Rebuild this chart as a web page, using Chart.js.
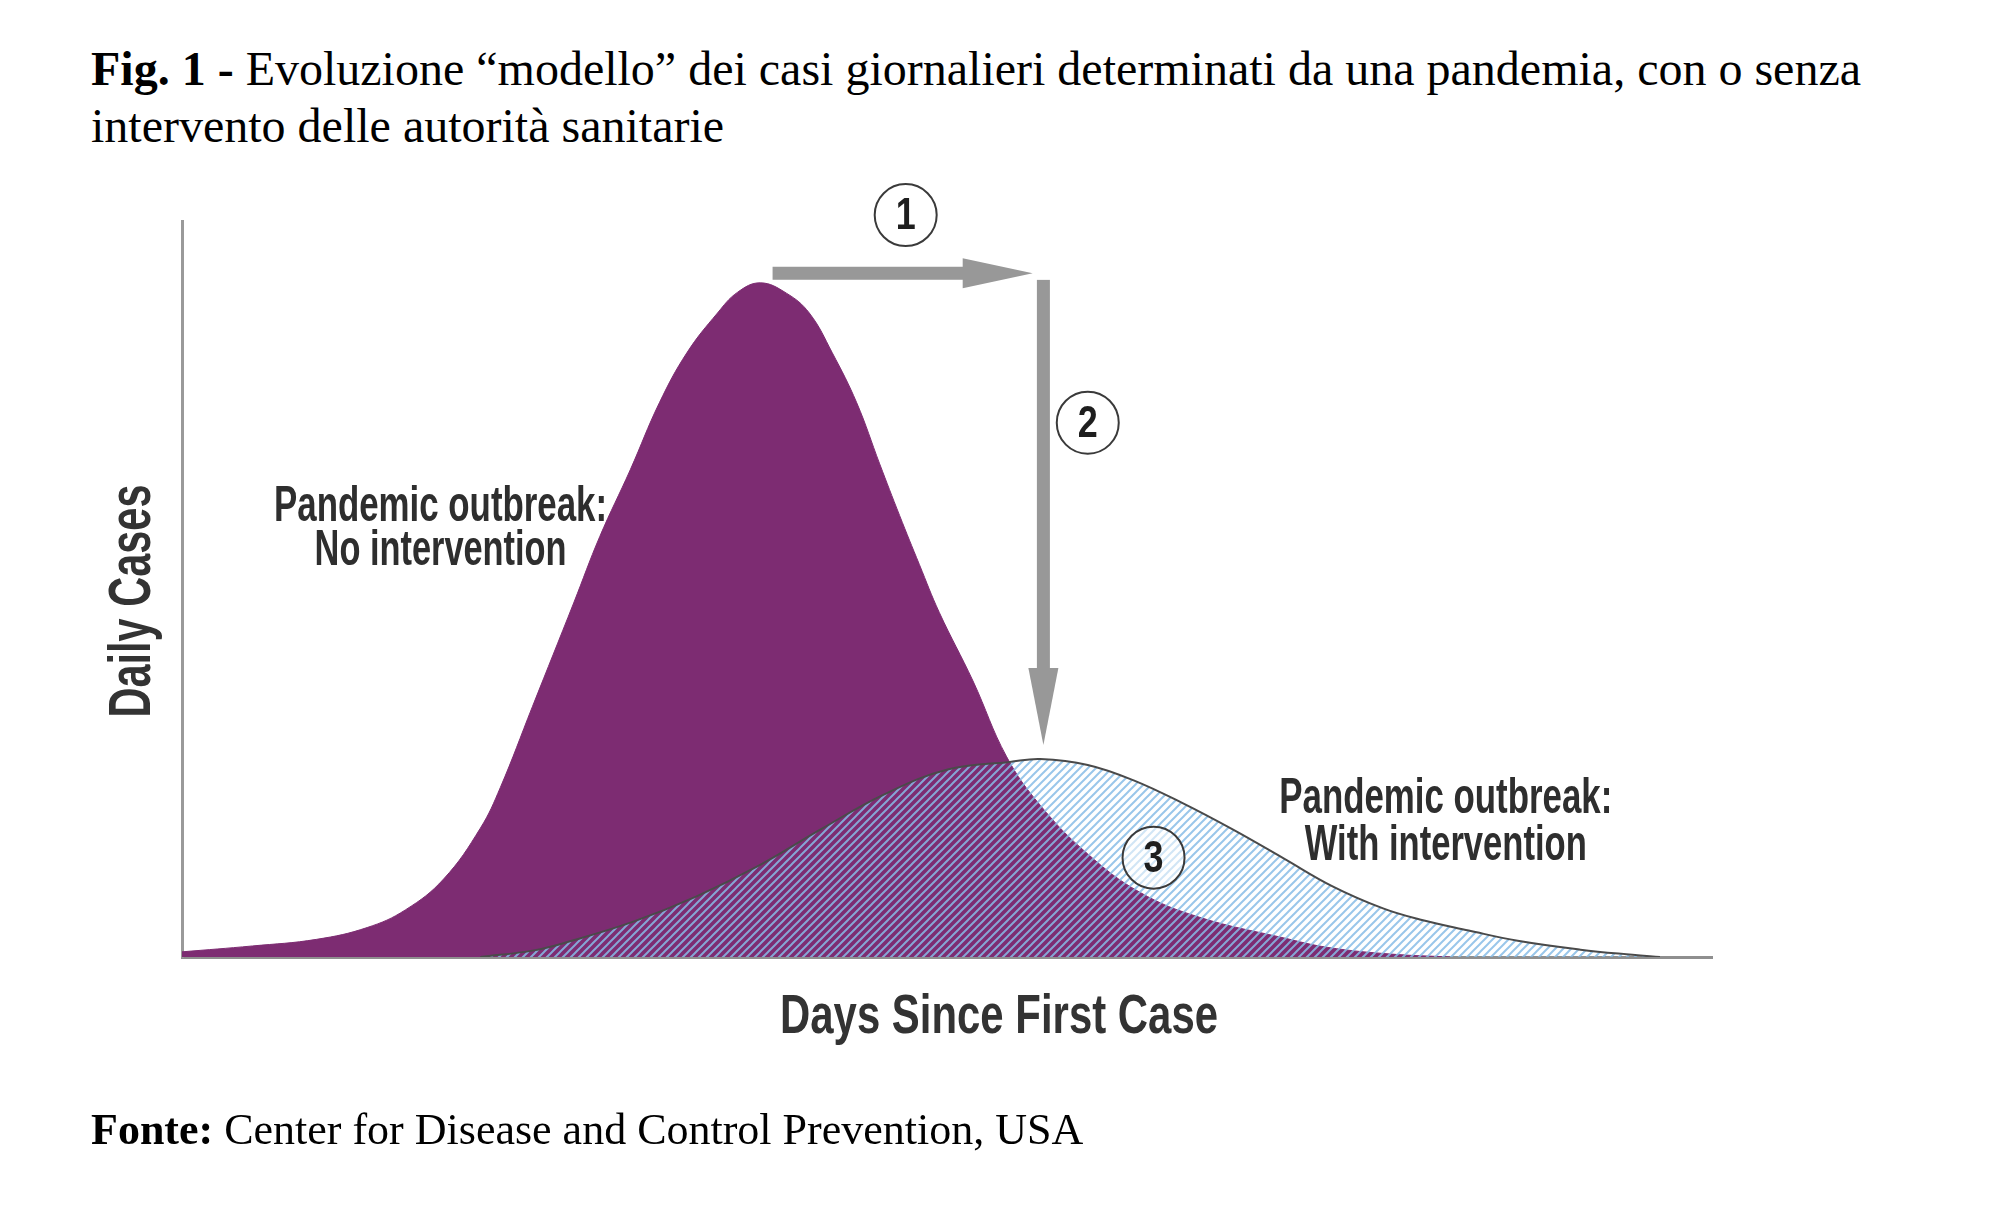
<!DOCTYPE html>
<html lang="it">
<head>
<meta charset="utf-8">
<title>Fig. 1 - Evoluzione modello dei casi giornalieri</title>
<script src="https://cdn.jsdelivr.net/npm/chart.js@4.4.1/dist/chart.umd.min.js"></script>
<style>
  html, body { margin: 0; padding: 0; background: #fff; }
  body { width: 1990px; height: 1212px; position: relative; overflow: hidden; }
  #chart { position: absolute; left: 0; top: 0; }
  .caption { position: absolute; left: 91px; font-family: "Liberation Serif", "Times New Roman", serif; color: #000; white-space: nowrap; }
  #title { top: 40px; font-size: 48px; line-height: 57px; }
  #source { top: 1105px; font-size: 44px; line-height: 50px; }
</style>
</head>
<body>
<div id="title" class="caption"><b>Fig. 1 -</b> Evoluzione “modello” dei casi giornalieri determinati da una pandemia, con o senza<br>intervento delle autorità sanitarie</div>
<canvas id="chart" width="1990" height="1212"></canvas>
<div id="source" class="caption"><b>Fonte:</b> Center for Disease and Control Prevention, USA</div>

<script>
// curve without intervention (days since first case -> daily cases, axis = 0..100)
const noInterventionDays  = [0, 4.6, 8.8, 12.1, 14.6, 17.1, 19.5, 20.8, 22.9, 25.6, 27.3, 29.3, 31.2, 33.0, 35.0, 36.3, 37.8, 39.5, 41.0, 42.5, 44.1, 45.6, 46.9, 48.2, 49.5, 51.7, 53.9, 56.1, 59.2, 62.6, 66.5, 72.0, 74.9, 79.0, 82.9]
const noInterventionCases = [0.7, 1.5, 2.4, 4.0, 6.4, 10.6, 17.5, 23.0, 34.0, 48.1, 57.1, 66.2, 75.3, 82.1, 87.5, 90.3, 91.6, 90.2, 87.5, 82.1, 75.3, 67.0, 60.0, 53.3, 46.8, 37.5, 27.2, 20.6, 14.0, 8.8, 5.4, 2.6, 1.3, 0.4, 0]

// curve with intervention
const withInterventionDays  = [19.5, 23.0, 25.3, 29.5, 33.6, 37.7, 41.8, 45.9, 50.1, 54.1, 56.1, 59.2, 62.2, 65.4, 68.7, 72.0, 75.2, 78.5, 80.9, 84.1, 87.3, 91.4, 94.8, 96.6]
const withInterventionCases = [0, 0.9, 2.1, 4.8, 8.2, 12.4, 17.4, 22.1, 25.5, 26.5, 26.9, 26.1, 24.0, 20.9, 17.3, 13.4, 9.6, 6.6, 5.1, 3.6, 2.2, 1.0, 0.3, 0]

const outbreakLabels = [
  { lines: ['Pandemic outbreak:', 'No intervention'], day: 16.9, cases: [59.2, 53.3] },
  { lines: ['Pandemic outbreak:', 'With intervention'], day: 82.6, cases: [19.6, 13.2] }
]
const stepMarkers = [
  { label: '1', day: 47.3, cases: 100.8 },
  { label: '2', day: 59.2, cases: 72.6 },
  { label: '3', day: 63.5, cases: 13.5 }
]
// arrow 1: peak shifted later, arrow 2: peak lowered
const shiftArrow = { from: [38.6, 92.9], to: [55.6, 92.9] }
const flattenArrow = { from: [56.3, 92.0], to: [56.3, 28.8] }

const xTitle = 'Days Since First Case'
const yTitle = 'Daily Cases'

const toPoints = (xs, ys) => xs.map((d, i) => ({ x: d, y: ys[i] }))

function makeHatch() {
  const s = 8
  const c = document.createElement('canvas')
  c.width = s; c.height = s
  const g = c.getContext('2d')
  g.strokeStyle = 'rgba(135,188,230,0.85)'
  g.lineWidth = 2
  g.beginPath()
  g.moveTo(0, s); g.lineTo(s, 0)
  g.moveTo(-s / 2, s / 2); g.lineTo(s / 2, -s / 2)
  g.moveTo(s / 2, s * 1.5); g.lineTo(s * 1.5, s / 2)
  g.stroke()
  return g.createPattern(c, 'repeat')
}

function condensed(ctx, text, x, y, size, width) {
  ctx.font = `bold ${size}px "Liberation Sans", Arial, sans-serif`
  ctx.fillText(text, x, y, width)
}

function arrow(ctx, x0, y0, x1, y1, shaft, headLen, headHalf) {
  const ang = Math.atan2(y1 - y0, x1 - x0)
  const len = Math.hypot(x1 - x0, y1 - y0)
  ctx.save()
  ctx.translate(x0, y0)
  ctx.rotate(ang)
  ctx.fillStyle = '#989898'
  ctx.fillRect(0, -shaft / 2, len - headLen + 1, shaft)
  ctx.beginPath()
  ctx.moveTo(len - headLen, -headHalf)
  ctx.lineTo(len, 0)
  ctx.lineTo(len - headLen, headHalf)
  ctx.closePath()
  ctx.fill()
  ctx.restore()
}

const annotations = {
  id: 'annotations',
  afterDatasetsDraw(chart) {
    const { ctx, chartArea, scales: { x, y } } = chart
    ctx.save()

    arrow(ctx, x.getPixelForValue(shiftArrow.from[0]), y.getPixelForValue(shiftArrow.from[1]),
      x.getPixelForValue(shiftArrow.to[0]), y.getPixelForValue(shiftArrow.to[1]), 13, 70, 15)
    arrow(ctx, x.getPixelForValue(flattenArrow.from[0]), y.getPixelForValue(flattenArrow.from[1]),
      x.getPixelForValue(flattenArrow.to[0]), y.getPixelForValue(flattenArrow.to[1]), 13, 77, 15)

    ctx.fillStyle = '#2e2e2e'
    ctx.textAlign = 'center'
    ctx.textBaseline = 'alphabetic'
    const widths = [[333, 252], [333, 282]]
    outbreakLabels.forEach((l, i) => {
      const cx = x.getPixelForValue(l.day)
      l.lines.forEach((t, j) => condensed(ctx, t, cx, y.getPixelForValue(l.cases[j]), 50, widths[i][j]))
    })

    stepMarkers.forEach(m => {
      const cx = x.getPixelForValue(m.day), cy = y.getPixelForValue(m.cases)
      ctx.beginPath()
      ctx.arc(cx, cy, 31, 0, Math.PI * 2)
      ctx.fillStyle = 'rgba(255,255,255,0.55)'
      ctx.fill()
      ctx.lineWidth = 2
      ctx.strokeStyle = '#3a3a3a'
      ctx.stroke()
      ctx.fillStyle = '#1e1e1e'
      ctx.textBaseline = 'middle'
      condensed(ctx, m.label, cx, cy + 2, 44, 20)
    })

    // axis titles
    ctx.fillStyle = '#333'
    ctx.textBaseline = 'alphabetic'
    condensed(ctx, xTitle, (chartArea.left + chartArea.right) / 2 + 52, chartArea.bottom + 76, 56, 438)
    ctx.translate(chartArea.left - 32, (chartArea.top + chartArea.bottom) / 2 + 12)
    ctx.rotate(-Math.PI / 2)
    condensed(ctx, yTitle, 0, 0, 60, 233)
    ctx.restore()
  }
}

new Chart(document.getElementById('chart'), {
  type: 'line',
  data: {
    datasets: [
      {
        label: 'Pandemic outbreak: With intervention',
        data: toPoints(withInterventionDays, withInterventionCases),
        fill: 'origin',
        backgroundColor: makeHatch(),
        borderColor: '#4a4a4a',
        borderWidth: 2,
        order: 0
      },
      {
        label: 'Pandemic outbreak: No intervention',
        data: toPoints(noInterventionDays, noInterventionCases),
        fill: 'origin',
        backgroundColor: '#7d2c72',
        borderColor: '#7d2c72',
        borderWidth: 1,
        order: 1
      }
    ]
  },
  options: {
    responsive: false,
    devicePixelRatio: 1,
    animation: false,
    layout: { padding: { left: 182, right: 278, top: 221, bottom: 255 } },
    elements: { point: { radius: 0 }, line: { tension: 0.4 } },
    plugins: { legend: { display: false }, tooltip: { enabled: false } },
    scales: {
      x: {
        type: 'linear', min: 0, max: 100,
        grid: { display: false, drawTicks: false },
        ticks: { display: false },
        border: { display: true, color: '#8f8f8f', width: 3 }
      },
      y: {
        min: 0, max: 100,
        grid: { display: false, drawTicks: false },
        ticks: { display: false },
        border: { display: true, color: '#9a9a9a', width: 3 }
      }
    }
  },
  plugins: [annotations]
})
</script>
</body>
</html>
